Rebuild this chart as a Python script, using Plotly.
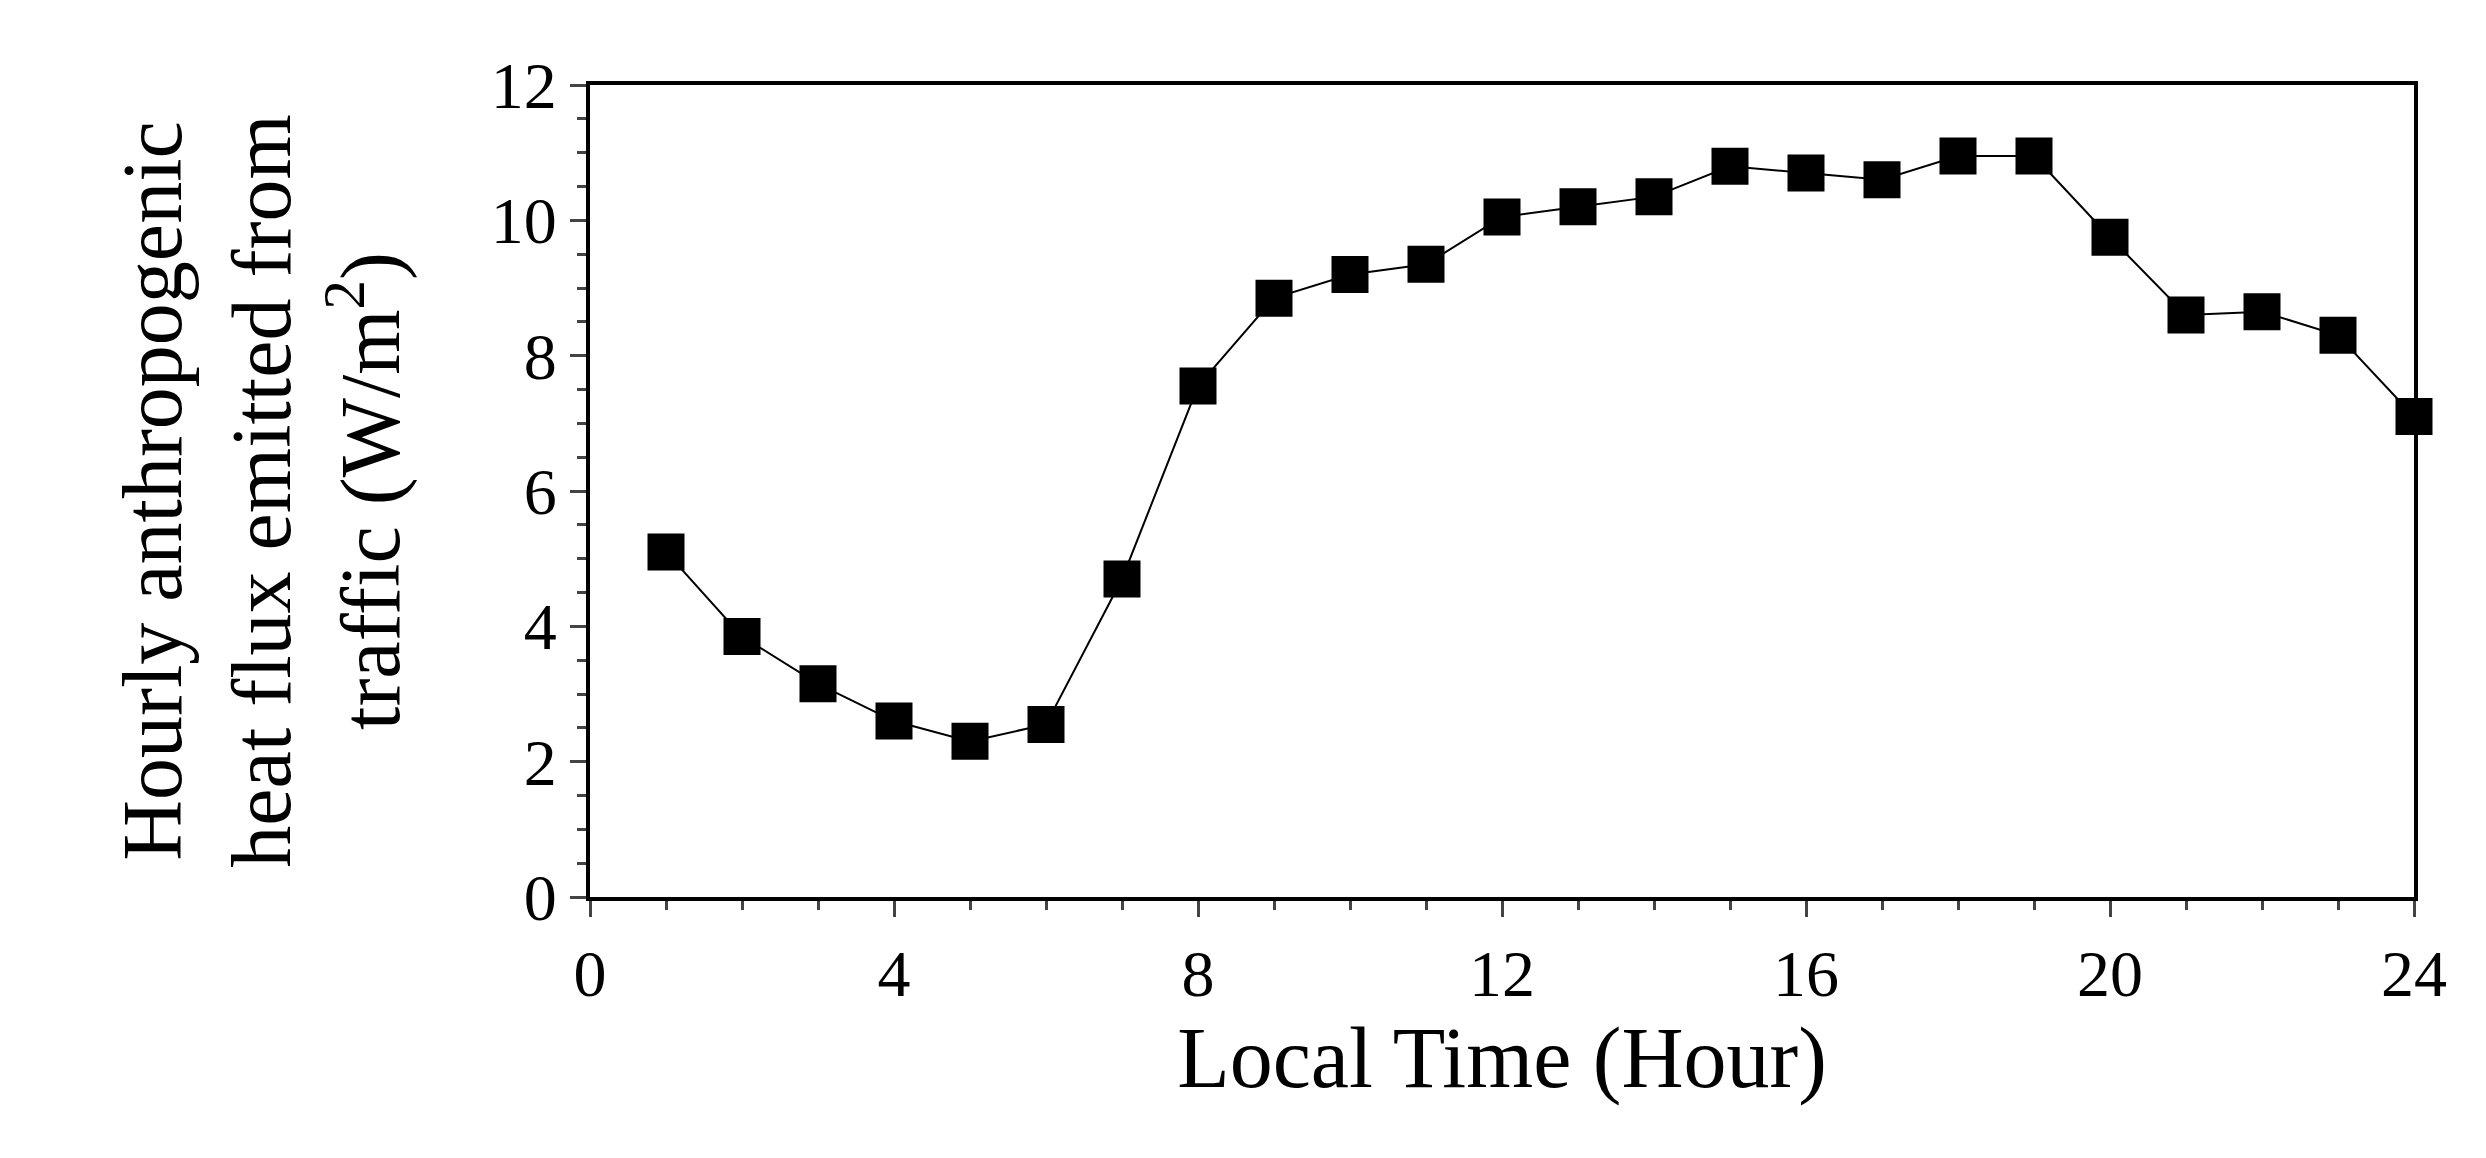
import plotly.graph_objects as go

hours = list(range(1, 25))
flux = [5.1, 3.85, 3.15, 2.6, 2.3, 2.55, 4.7, 7.55, 8.85, 9.2, 9.35, 10.05,
        10.2, 10.35, 10.8, 10.7, 10.6, 10.95, 10.95, 9.75, 8.6, 8.65, 8.3, 7.1]
x_ticks = [0, 4, 8, 12, 16, 20, 24]
y_ticks = [0, 2, 4, 6, 8, 10, 12]

fig = go.Figure(go.Scatter(x=hours, y=flux, mode="lines+markers",
    line=dict(color="black", width=2),
    marker=dict(symbol="square", size=37, color="black"), cliponaxis=False))

font = dict(family="Liberation Serif", color="black")
fig.update_layout(
    width=2486, height=1158, plot_bgcolor="white", paper_bgcolor="white",
    margin=dict(l=582, r=80, t=77, b=269), showlegend=False, font=font,
)
fig.update_xaxes(range=[0, 24], tickvals=x_ticks, ticks="outside", ticklen=16, tickwidth=3,
    minor=dict(dtick=1, ticks="outside", ticklen=9, tickwidth=3, tick0=0),
    showline=True, linecolor="black", linewidth=4, mirror=True, showgrid=False, zeroline=False,
    tickfont=dict(size=66, **font),
    title=dict(text="Local Time (Hour)", font=dict(size=86, **font), standoff=10))
fig.update_yaxes(range=[0, 12], tickvals=y_ticks, ticks="outside", ticklen=16, tickwidth=3,
    minor=dict(dtick=0.5, ticks="outside", ticklen=9, tickwidth=3, tick0=0),
    showline=True, linecolor="black", linewidth=4, mirror=True, showgrid=False, zeroline=False,
    tickfont=dict(size=66, **font))
fig.add_annotation(text="Hourly anthropogenic<br>heat flux emitted from<br>traffic (W/m<sup>2</sup>)",
    xref="paper", yref="paper", x=-0.18, y=0.5, textangle=-90, showarrow=False,
    font=dict(size=84, **font), align="center", xanchor="center", yanchor="middle")
fig.write_html("out.html")
